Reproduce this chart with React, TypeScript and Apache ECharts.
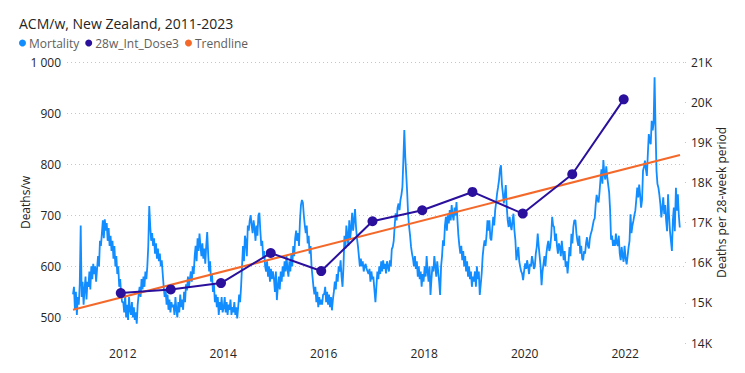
import React, { useEffect, useRef } from "react";
import * as echarts from "echarts";

// Weekly all-cause mortality (deaths/week), one array per calendar year
const m2011 = [545, 560, 515, 550, 505, 540, 525, 565, 680, 540, 570, 525, 555, 580, 535, 570, 560, 590, 555, 600, 575, 605, 585, 600, 570, 595, 620, 600, 650, 640, 665, 690, 655, 692, 670, 685, 650, 675, 640, 660, 630, 650, 615, 640, 600, 620, 585, 600, 560, 575, 545, 530];
const m2012 = [530, 510, 545, 500, 525, 495, 540, 515, 505, 530, 500, 520, 495, 510, 488, 525, 545, 560, 540, 575, 555, 580, 560, 590, 575, 600, 640, 718, 680, 650, 665, 640, 655, 625, 645, 615, 635, 610, 625, 600, 612, 585, 560, 540, 555, 525, 545, 515, 535, 510, 530, 520];
const m2013 = [525, 505, 540, 515, 500, 530, 510, 545, 520, 535, 515, 550, 530, 565, 553, 580, 560, 575, 590, 570, 600, 585, 620, 640, 610, 655, 630, 664, 640, 620, 645, 615, 635, 605, 640, 667, 625, 590, 610, 570, 585, 550, 565, 530, 545, 520, 540, 505, 530, 515, 540, 510];
const m2014 = [520, 540, 510, 530, 505, 525, 515, 535, 505, 520, 510, 530, 505, 520, 498, 520, 545, 530, 560, 600, 640, 610, 660, 650, 620, 680, 670, 690, 700, 680, 665, 690, 675, 650, 680, 660, 700, 705, 670, 640, 650, 615, 630, 600, 590, 610, 580, 600, 570, 595, 575, 590];
const m2015 = [575, 550, 590, 534, 560, 580, 555, 590, 570, 600, 580, 610, 590, 620, 595, 580, 610, 590, 625, 600, 640, 620, 655, 670, 650, 665, 640, 690, 720, 730, 725, 700, 680, 665, 680, 645, 660, 625, 640, 600, 580, 560, 545, 560, 530, 550, 520, 540, 525, 535, 525, 545];
const m2016 = [545, 560, 530, 550, 525, 545, 520, 540, 514, 535, 550, 570, 555, 585, 570, 600, 590, 612, 580, 560, 600, 660, 635, 680, 660, 640, 690, 655, 675, 705, 670, 690, 712, 677, 655, 640, 620, 600, 615, 600, 610, 590, 600, 605, 595, 590, 585, 595, 570, 590, 575, 580];
const m2017 = [553, 530, 560, 590, 575, 600, 585, 610, 590, 612, 595, 605, 586, 610, 600, 590, 612, 600, 634, 638, 650, 680, 704, 690, 715, 723, 710, 730, 740, 755, 808, 867, 814, 780, 743, 700, 677, 660, 638, 625, 615, 600, 620, 595, 610, 580, 600, 575, 590, 560, 585, 570];
const m2018 = [600, 580, 620, 590, 570, 600, 544, 575, 600, 590, 620, 600, 580, 610, 590, 570, 544, 600, 620, 651, 640, 680, 697, 670, 700, 684, 710, 690, 720, 700, 690, 715, 700, 726, 690, 660, 640, 625, 640, 612, 630, 600, 620, 590, 610, 580, 600, 575, 590, 560, 580, 570];
const m2019 = [590, 560, 600, 575, 590, 544, 565, 586, 620, 638, 651, 640, 660, 690, 670, 690, 655, 651, 675, 697, 680, 710, 725, 743, 755, 769, 790, 798, 760, 743, 723, 740, 759, 717, 690, 677, 697, 680, 671, 690, 703, 670, 651, 612, 625, 638, 610, 599, 590, 586, 573, 590];
const m2020 = [606, 595, 612, 600, 585, 605, 600, 620, 610, 595, 600, 625, 638, 664, 640, 620, 600, 563, 590, 605, 620, 600, 625, 640, 650, 630, 638, 660, 697, 680, 677, 650, 664, 640, 625, 645, 638, 620, 650, 630, 612, 630, 599, 610, 586, 610, 638, 620, 664, 645, 677, 690];
const m2021 = [690, 665, 650, 640, 660, 625, 640, 615, 612, 630, 625, 645, 657, 640, 635, 655, 664, 670, 680, 690, 694, 720, 740, 730, 725, 745, 770, 790, 762, 808, 780, 770, 796, 775, 760, 745, 710, 652, 660, 640, 652, 640, 664, 645, 640, 660, 625, 612, 638, 620, 609, 640];
const m2022 = [615, 604, 620, 637, 650, 702, 665, 680, 689, 700, 709, 730, 754, 735, 760, 740, 715, 730, 787, 795, 807, 790, 777, 820, 859, 845, 839, 885, 866, 880, 970, 872, 787, 761, 754, 740, 722, 696, 715, 735, 702, 720, 690, 669, 741, 700, 669, 650, 630, 690, 715, 669];
const m2023 = [754, 709, 741, 700, 676];

const mortalityYears = [2011, 2012, 2013, 2014, 2015, 2016, 2017, 2018, 2019, 2020, 2021, 2022, 2023];
const mortalityByYear = [m2011, m2012, m2013, m2014, m2015, m2016, m2017, m2018, m2019, m2020, m2021, m2022, m2023];

// Deaths per 28-week period (right axis)
const dose3Dates = [2011.96, 2012.955, 2013.955, 2014.945, 2015.95, 2016.97, 2017.96, 2018.96, 2019.96, 2020.946, 2021.97];
const dose3Values = [15243, 15335, 15492, 16241, 15792, 17032, 17307, 17763, 17224, 18205, 20069];

// Linear trendline of mortality
const trendDates = [2011.01, 2023.09];
const trendValues = [515, 818];

const xLabelYears = [2012, 2014, 2016, 2018, 2020, 2022];
const leftTicks = [500, 600, 700, 800, 900, 1000];

const FONT = "'Segoe UI', 'Open Sans', sans-serif";

export default function App() {
  const ref = useRef<HTMLDivElement>(null);

  useEffect(() => {
    document.body.style.margin = "0";
    if (!ref.current) return;
    const chart = echarts.init(ref.current, undefined, { renderer: "svg" });

    const mortalityData: number[][] = [];
    mortalityByYear.forEach((arr, yi) => {
      arr.forEach((v, w) => {
        mortalityData.push([mortalityYears[yi] + (w + 0.5) / 52.18, v]);
      });
    });
    const dose3Data = dose3Dates.map((d, i) => [d, dose3Values[i]]);
    const trendData = trendDates.map((d, i) => [d, trendValues[i]]);

    chart.setOption({
      animation: false,
      textStyle: { fontFamily: FONT },
      title: {
        text: "ACM/w, New Zealand, 2011-2023",
        left: 19,
        top: 15,
        padding: 0,
        textStyle: { fontFamily: FONT, fontSize: 14, lineHeight: 16, fontWeight: "normal", color: "#252423" },
      },
      legend: {
        left: 19,
        top: 36,
        padding: 0,
        icon: "circle",
        itemWidth: 7,
        itemHeight: 7,
        itemGap: 6,
        textStyle: { fontFamily: FONT, fontSize: 12, lineHeight: 14, color: "#605E5C", padding: [0, 0, 0, -2] },
        data: ["Mortality", "28w_Int_Dose3", "Trendline"],
      },
      grid: { left: 67, right: 60, top: 62, bottom: 30, containLabel: false },
      xAxis: {
        type: "value",
        min: 2010.89,
        max: 2023.19,
        axisLine: { show: false },
        axisTick: { show: false, customValues: xLabelYears },
        splitLine: { show: false },
        axisLabel: {
          customValues: xLabelYears,
          formatter: (v: number) => String(Math.round(v)),
          margin: 4,
          fontFamily: FONT,
          fontSize: 12,
          color: "#252423",
        },
      },
      yAxis: [
        {
          type: "value",
          min: 450,
          max: 1000,
          name: "Deaths/w",
          nameLocation: "middle",
          nameGap: 36,
          nameMoveOverlap: false,
          nameTextStyle: { fontFamily: FONT, fontSize: 12, color: "#252423" },
          axisLine: { show: false },
          axisTick: { show: false, customValues: leftTicks },
          axisLabel: {
            customValues: leftTicks,
            margin: 6,
            fontFamily: FONT,
            fontSize: 12,
            color: "#252423",
            formatter: (v: number) => (v >= 1000 ? "1 000" : String(v)),
          },
          splitLine: { show: true, lineStyle: { color: "#C8C6C4", type: [1, 3], width: 1 } },
        },
        {
          type: "value",
          min: 14000,
          max: 21000,
          interval: 1000,
          name: "Deaths per 28-week period",
          nameLocation: "middle",
          nameGap: 30,
          nameMoveOverlap: false,
          nameTextStyle: { fontFamily: FONT, fontSize: 12, color: "#252423" },
          axisLine: { show: false },
          axisTick: { show: true, length: 1, lineStyle: { color: "#C8C6C4" } },
          splitLine: { show: false },
          axisLabel: {
            margin: 6,
            fontFamily: FONT,
            fontSize: 12,
            color: "#252423",
            formatter: (v: number) => v / 1000 + "K",
          },
        },
      ],
      series: [
        {
          name: "Mortality",
          type: "line",
          yAxisIndex: 0,
          data: mortalityData,
          showSymbol: false,
          symbol: "none",
          lineStyle: { color: "#118DFF", width: 1.8 },
          itemStyle: { color: "#118DFF" },
          z: 2,
        },
        {
          name: "28w_Int_Dose3",
          type: "line",
          yAxisIndex: 1,
          data: dose3Data,
          symbol: "circle",
          symbolSize: 10,
          lineStyle: { color: "#2A109C", width: 2 },
          itemStyle: { color: "#2A109C" },
          z: 4,
        },
        {
          name: "Trendline",
          type: "line",
          yAxisIndex: 0,
          data: trendData,
          showSymbol: false,
          symbol: "none",
          lineStyle: { color: "#F4692A", width: 2 },
          itemStyle: { color: "#F4692A" },
          z: 3,
        },
      ],
    });

    return () => chart.dispose();
  }, []);

  return <div ref={ref} style={{ width: 745, height: 373 }} />;
}
